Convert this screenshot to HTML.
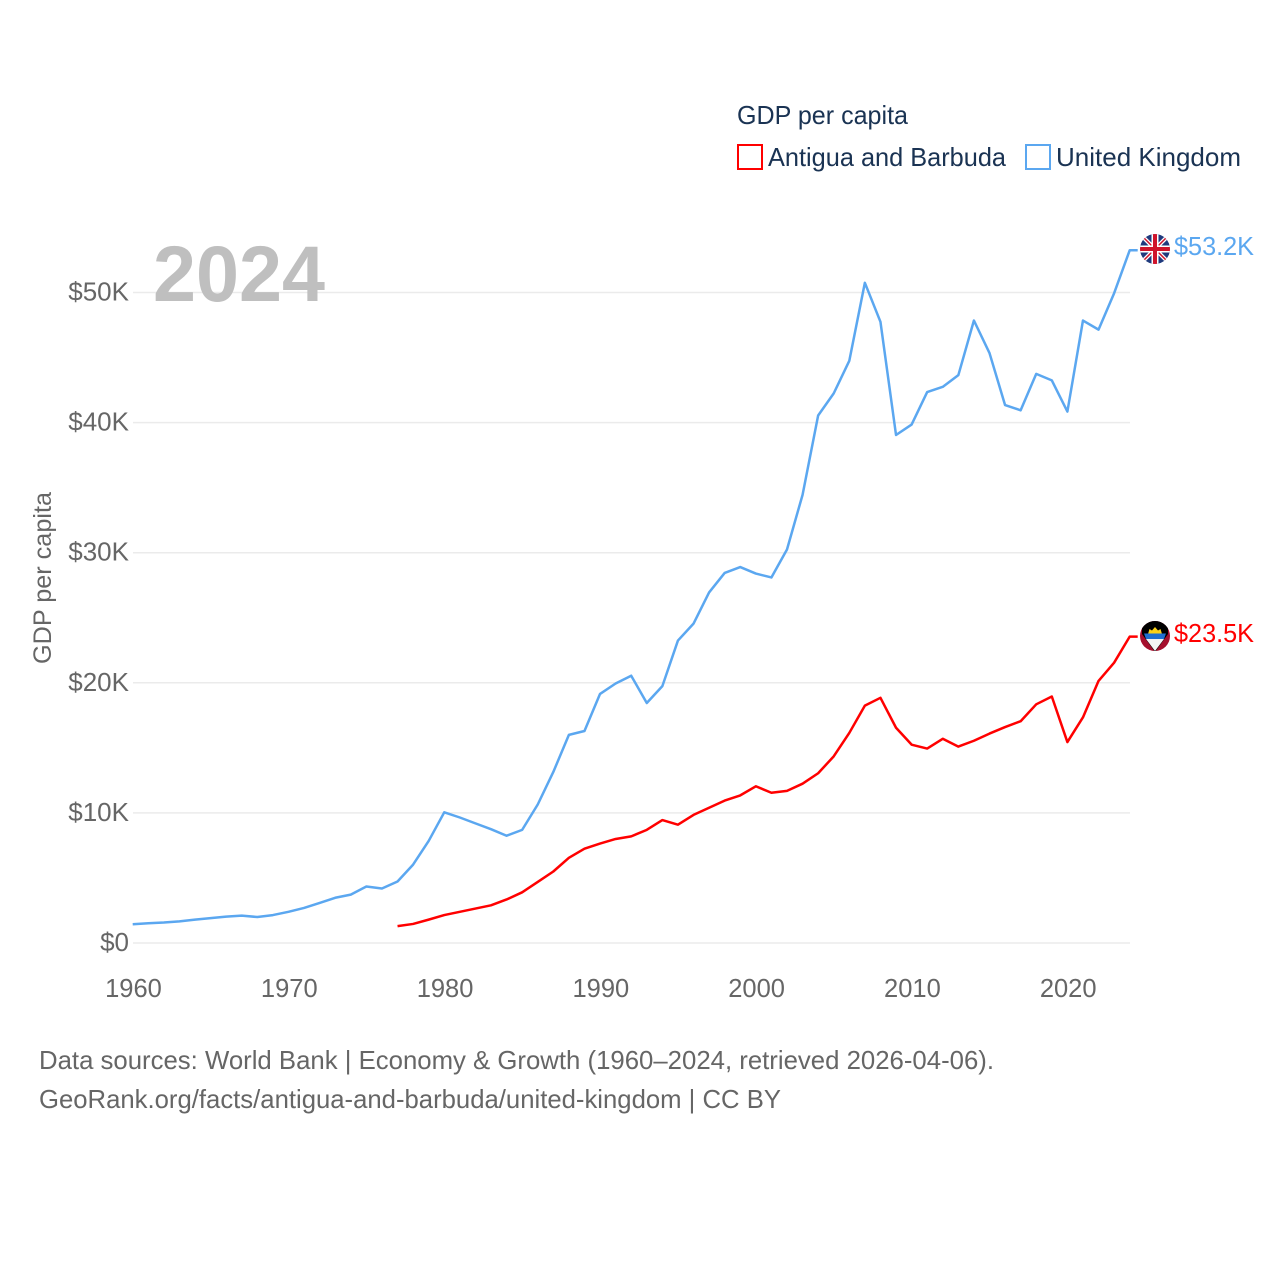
<!DOCTYPE html>
<html lang="en">
<head>
<meta charset="utf-8">
<title>GDP per capita: Antigua and Barbuda vs United Kingdom</title>
<style>
html,body{margin:0;padding:0;background:#fff;width:1280px;height:1280px;overflow:hidden}
svg{display:block}
text{font-family:"Liberation Sans",sans-serif}
</style>
</head>
<body>
<svg id="chart" xmlns="http://www.w3.org/2000/svg" width="1280" height="1280" viewBox="0 0 1280 1280">
  <defs>
    <clipPath id="flag-clip-uk"><circle cx="1155" cy="249" r="15"/></clipPath>
    <clipPath id="flag-clip-ag"><circle cx="1155" cy="636" r="15"/></clipPath>
  </defs>
  <g id="grid"></g>
  <g id="yticks"></g>
  <g id="xticks"></g>
  <text x="153" y="301" font-size="79" font-weight="700" fill="#bfbfbf" textLength="172" lengthAdjust="spacingAndGlyphs">2024</text>
  <text transform="translate(51,664) rotate(-90)" font-size="25" fill="#666" textLength="172" lengthAdjust="spacingAndGlyphs">GDP per capita</text>
  <g id="series" transform="translate(-0.3,-0.6)"></g>

  <g>
    <text x="737" y="124" font-size="26" fill="#1a3353" textLength="171" lengthAdjust="spacingAndGlyphs">GDP per capita</text>
    <g>
      <rect x="738" y="145" width="24" height="24" fill="none" stroke="#ff0000" stroke-width="2"/>
      <text x="768" y="166" font-size="26" fill="#1a3353" textLength="238" lengthAdjust="spacingAndGlyphs">Antigua and Barbuda</text>
    </g>
    <g>
      <rect x="1026" y="145" width="24" height="24" fill="none" stroke="#5ba7f0" stroke-width="2"/>
      <text x="1056" y="166" font-size="26" fill="#1a3353" textLength="185" lengthAdjust="spacingAndGlyphs">United Kingdom</text>
    </g>
  </g>

  <g clip-path="url(#flag-clip-uk)">
    <rect x="1140" y="234" width="30" height="30" fill="#1f3a7d"/>
    <path d="M1140 234L1170 264M1170 234L1140 264" stroke="#fff" stroke-width="4"/>
    <path d="M1140 234L1170 264M1170 234L1140 264" stroke="#cf142b" stroke-width="1.500"/>
    <path d="M1155 234V264M1140 249H1170" stroke="#fff" stroke-width="7"/>
    <path d="M1155 234V264M1140 249H1170" stroke="#cf142b" stroke-width="4"/>
  </g>
  <g clip-path="url(#flag-clip-ag)">
    <rect x="1140" y="621" width="30" height="30" fill="#a50f2d"/>
    <path d="M1142 621H1168V634L1155 652L1142 634Z" fill="#000"/>
    <path d="M1148 634H1162L1160.500 629L1158 630.500L1155 627L1152 630.500L1149.500 629Z" fill="#fcd116"/>
    <path d="M1144 633.500H1166L1164 639H1146Z" fill="#1f6fd0"/>
    <path d="M1146 639H1164L1155 651Z" fill="#f4f4f4"/>
  </g>

  <text x="1174" y="255" font-size="25.500" fill="#5ba7f0" textLength="80" lengthAdjust="spacingAndGlyphs">$53.2K</text>
  <text x="1174" y="642" font-size="25.500" fill="#ff0000" textLength="80" lengthAdjust="spacingAndGlyphs">$23.5K</text>

  <text x="39" y="1069" font-size="26" fill="#666" textLength="955" lengthAdjust="spacingAndGlyphs">Data sources: World Bank | Economy &amp; Growth (1960–2024, retrieved 2026-04-06).</text>
  <text x="39" y="1108" font-size="26" fill="#666" textLength="742" lengthAdjust="spacingAndGlyphs">GeoRank.org/facts/antigua-and-barbuda/united-kingdom | CC BY</text>
</svg>
<script>
const ukYears = [1960,1961,1962,1963,1964,1965,1966,1967,1968,1969,1970,1971,1972,1973,1974,1975,1976,1977,1978,1979,1980,1981,1982,1983,1984,1985,1986,1987,1988,1989,1990,1991,1992,1993,1994,1995,1996,1997,1998,1999,2000,2001,2002,2003,2004,2005,2006,2007,2008,2009,2010,2011,2012,2013,2014,2015,2016,2017,2018,2019,2020,2021,2022,2023,2024];
const ukValues = [1.4,1.47,1.53,1.62,1.75,1.87,1.98,2.06,1.95,2.1,2.35,2.65,3.03,3.43,3.67,4.3,4.14,4.68,5.98,7.8,10.0,9.6,9.15,8.7,8.2,8.65,10.6,13.1,15.95,16.25,19.1,19.9,20.5,18.4,19.7,23.2,24.5,26.9,28.4,28.85,28.35,28.05,30.2,34.4,40.5,42.2,44.7,50.7,47.7,39.0,39.8,42.3,42.7,43.6,47.8,45.3,41.3,40.9,43.7,43.2,40.8,47.8,47.1,49.9,53.2];
const agYears = [1977,1978,1979,1980,1981,1982,1983,1984,1985,1986,1987,1988,1989,1990,1991,1992,1993,1994,1995,1996,1997,1998,1999,2000,2001,2002,2003,2004,2005,2006,2007,2008,2009,2010,2011,2012,2013,2014,2015,2016,2017,2018,2019,2020,2021,2022,2023,2024];
const agValues = [1.25,1.42,1.75,2.1,2.35,2.6,2.85,3.3,3.85,4.65,5.45,6.5,7.2,7.6,7.95,8.15,8.65,9.4,9.05,9.8,10.35,10.9,11.3,12.0,11.5,11.65,12.2,13.0,14.3,16.1,18.2,18.8,16.5,15.2,14.9,15.65,15.05,15.5,16.05,16.55,17.0,18.3,18.9,15.4,17.3,20.1,21.5,23.5];
const yTickValues = [0,10,20,30,40,50];
const yTickLabels = ["$0","$10K","$20K","$30K","$40K","$50K"];
const xTickValues = [1960,1970,1980,1990,2000,2010,2020];

const NS = "http://www.w3.org/2000/svg";
const plotLeft = 133, plotRight = 1130, yZero = 943, y50 = 292.5;
function xScale(year){ return plotLeft + (year - 1960) * (plotRight - plotLeft) / 64; }
function yScale(value){ return yZero - value * (yZero - y50) / 50; }

const gridGroup = document.getElementById("grid");
const yTickGroup = document.getElementById("yticks");
const xTickGroup = document.getElementById("xticks");
const seriesGroup = document.getElementById("series");

yTickValues.forEach(function(value, i){
  const line = document.createElementNS(NS, "line");
  
  
  line.setAttribute("x1", plotLeft);
  line.setAttribute("x2", plotRight);
  line.setAttribute("y1", yScale(value));
  line.setAttribute("y2", yScale(value));
  line.setAttribute("stroke", "#ebebeb");
  line.setAttribute("stroke-width", "1.5");
  gridGroup.appendChild(line);

  const label = document.createElementNS(NS, "text");
  
  
  label.setAttribute("x", 129);
  label.setAttribute("y", yScale(value) + 8);
  label.setAttribute("text-anchor", "end");
  label.setAttribute("font-size", "26");
  label.setAttribute("fill", "#666");
  label.textContent = yTickLabels[i];
  yTickGroup.appendChild(label);
});

xTickValues.forEach(function(year){
  const label = document.createElementNS(NS, "text");
  
  
  label.setAttribute("x", xScale(year) + 0.5);
  label.setAttribute("y", 997);
  label.setAttribute("text-anchor", "middle");
  label.setAttribute("font-size", "25.5");
  label.setAttribute("fill", "#666");
  label.textContent = String(year);
  xTickGroup.appendChild(label);
});

function seriesPath(years, values){
  const pts = years.map(function(year, i){
    return xScale(year).toFixed(2) + "," + yScale(values[i]).toFixed(2);
  });
  const last = values[values.length - 1];
  pts.push((plotRight + 8) + "," + yScale(last).toFixed(2));
  return "M" + pts.join("L");
}

const ukLine = document.createElementNS(NS, "path");


ukLine.setAttribute("d", seriesPath(ukYears, ukValues));
ukLine.setAttribute("fill", "none");
ukLine.setAttribute("stroke", "#5ba7f0");
ukLine.setAttribute("stroke-width", "2.5");
ukLine.setAttribute("stroke-linejoin", "round");
seriesGroup.appendChild(ukLine);

const agLine = document.createElementNS(NS, "path");


agLine.setAttribute("d", seriesPath(agYears, agValues));
agLine.setAttribute("fill", "none");
agLine.setAttribute("stroke", "#ff0000");
agLine.setAttribute("stroke-width", "2.5");
agLine.setAttribute("stroke-linejoin", "round");
seriesGroup.appendChild(agLine);
</script>
</body>
</html>
